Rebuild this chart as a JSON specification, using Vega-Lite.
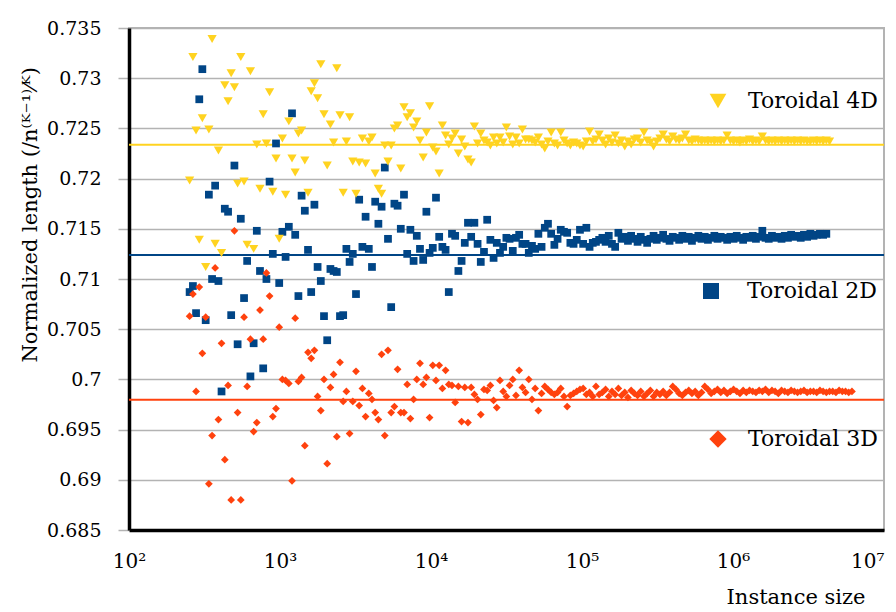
{
"$schema":"https://vega.github.io/schema/vega-lite/v6.json",
"width":755,"height":502,
"autosize":{"type":"none"},
"padding":{"left":129,"top":28,"right":12,"bottom":82},
"background":"white",
"config":{
 "font":"DejaVu Serif",
 "view":{"stroke":"#b3b3b3","strokeWidth":2},
 "style":{"guide-label":{"font":"DejaVu Serif"},"guide-title":{"font":"DejaVu Serif"}},
 "axis":{"labelFont":"DejaVu Serif","titleFont":"DejaVu Serif","labelColor":"black","titleColor":"black","titleFontWeight":"normal"},
 "legend":{"labelFont":"DejaVu Serif","labelColor":"black","labelFontSize":22,"padding":0,"title":null}
},
"datasets":{"pts":[
{"n":252,"d2":0.7087,"d3":0.7063,"d4":0.7198},
{"n":265,"d2":0.7093,"d3":0.7085,"d4":0.7321},
{"n":278,"d2":0.7066,"d3":0.6988,"d4":0.7248},
{"n":292,"d2":0.7279,"d3":0.7092,"d4":0.7139},
{"n":306,"d2":0.7309,"d3":0.7026,"d4":0.7260},
{"n":322,"d2":0.7059,"d3":0.7062,"d4":0.7112},
{"n":338,"d2":0.7184,"d3":0.6896,"d4":0.7249},
{"n":355,"d2":0.7100,"d3":0.6944,"d4":0.7339},
{"n":372,"d2":0.7193,"d3":0.7111,"d4":0.7135},
{"n":391,"d2":0.7098,"d3":0.6960,"d4":0.7228},
{"n":410,"d2":0.6988,"d3":0.7036,"d4":0.7126},
{"n":431,"d2":0.7170,"d3":0.6920,"d4":0.7293},
{"n":453,"d2":0.7167,"d3":0.6994,"d4":0.7277},
{"n":475,"d2":0.7064,"d3":0.6880,"d4":0.7305},
{"n":499,"d2":0.7213,"d3":0.7148,"d4":0.7291},
{"n":524,"d2":0.7035,"d3":0.6967,"d4":0.7195},
{"n":550,"d2":0.7160,"d3":0.6880,"d4":0.7321},
{"n":578,"d2":0.7081,"d3":0.7062,"d4":0.7197},
{"n":606,"d2":0.7118,"d3":0.6993,"d4":0.7134},
{"n":637,"d2":0.7003,"d3":0.7040,"d4":0.7307},
{"n":669,"d2":0.7036,"d3":0.6948,"d4":0.7130},
{"n":702,"d2":0.7148,"d3":0.6957,"d4":0.7234},
{"n":737,"d2":0.7108,"d3":0.7069,"d4":0.7190},
{"n":774,"d2":0.7011,"d3":0.7040,"d4":0.7264},
{"n":813,"d2":0.7100,"d3":0.7106,"d4":0.7235},
{"n":853,"d2":0.7197,"d3":0.7083,"d4":0.7286},
{"n":896,"d2":0.7125,"d3":0.6963,"d4":0.7187},
{"n":941,"d2":0.7235,"d3":0.6971,"d4":0.7220},
{"n":988,"d2":0.7096,"d3":0.7052,"d4":0.7140},
{"n":1037,"d2":0.7147,"d3":0.7000,"d4":0.7240},
{"n":1089,"d2":0.7122,"d3":0.6999,"d4":0.7184},
{"n":1144,"d2":0.7152,"d3":0.6996,"d4":0.7257},
{"n":1201,"d2":0.7265,"d3":0.6899,"d4":0.7220},
{"n":1261,"d2":0.7144,"d3":0.7061,"d4":0.7206},
{"n":1324,"d2":0.7083,"d3":0.6998,"d4":0.7245},
{"n":1390,"d2":0.7183,"d3":0.7002,"d4":0.7248},
{"n":1460,"d2":0.7168,"d3":0.6934,"d4":0.7218},
{"n":1533,"d2":0.7129,"d3":0.7027,"d4":0.7186},
{"n":1609,"d2":0.7087,"d3":0.7021,"d4":0.7287},
{"n":1690,"d2":0.7174,"d3":0.7029,"d4":0.7295},
{"n":1774,"d2":0.7112,"d3":0.6983,"d4":0.7280},
{"n":1863,"d2":0.7098,"d3":0.6969,"d4":0.7314},
{"n":1956,"d2":0.7063,"d3":0.7000,"d4":0.7264},
{"n":2054,"d2":0.7039,"d3":0.6916,"d4":0.7213},
{"n":2157,"d2":0.7110,"d3":0.6992,"d4":0.7254},
{"n":2264,"d2":0.7108,"d3":0.7005,"d4":0.7236},
{"n":2378,"d2":0.7107,"d3":0.6943,"d4":0.7310},
{"n":2496,"d2":0.7063,"d3":0.7017,"d4":0.7263},
{"n":2621,"d2":0.7064,"d3":0.6978,"d4":0.7186},
{"n":2752,"d2":0.7130,"d3":0.6988,"d4":0.7237},
{"n":2890,"d2":0.7117,"d3":0.6946,"d4":0.7261},
{"n":3034,"d2":0.7125,"d3":0.6978,"d4":0.7217},
{"n":3186,"d2":0.7085,"d3":0.7008,"d4":0.7185},
{"n":3345,"d2":0.7179,"d3":0.6974,"d4":0.7216},
{"n":3513,"d2":0.7132,"d3":0.6991,"d4":0.7240},
{"n":3688,"d2":0.7162,"d3":0.6963,"d4":0.7215},
{"n":3873,"d2":0.7130,"d3":0.6986,"d4":0.7237},
{"n":4066,"d2":0.7112,"d3":0.6980,"d4":0.7241},
{"n":4270,"d2":0.7177,"d3":0.6967,"d4":0.7205},
{"n":4483,"d2":0.7155,"d3":0.6960,"d4":0.7190},
{"n":4707,"d2":0.7172,"d3":0.7025,"d4":0.7185},
{"n":4943,"d2":0.7211,"d3":0.6944,"d4":0.7233},
{"n":5190,"d2":0.7140,"d3":0.7029,"d4":0.7217},
{"n":5449,"d2":0.7072,"d3":0.6967,"d4":0.7233},
{"n":5722,"d2":0.7175,"d3":0.6973,"d4":0.7250},
{"n":6008,"d2":0.7173,"d3":0.7010,"d4":0.7253},
{"n":6308,"d2":0.7150,"d3":0.6967,"d4":0.7210},
{"n":6624,"d2":0.7184,"d3":0.6967,"d4":0.7271},
{"n":6955,"d2":0.7125,"d3":0.6995,"d4":0.7261},
{"n":7303,"d2":0.7149,"d3":0.6961,"d4":0.7265},
{"n":7668,"d2":0.7118,"d3":0.6980,"d4":0.7251},
{"n":8051,"d2":0.7143,"d3":0.7000,"d4":0.7257},
{"n":8454,"d2":0.7130,"d3":0.7016,"d4":0.7238},
{"n":8876,"d2":0.7119,"d3":0.6995,"d4":0.7221},
{"n":9320,"d2":0.7167,"d3":0.7002,"d4":0.7246},
{"n":9786,"d2":0.7126,"d3":0.6962,"d4":0.7272},
{"n":10276,"d2":0.7131,"d3":0.7014,"d4":0.7231},
{"n":10789,"d2":0.7181,"d3":0.6999,"d4":0.7227},
{"n":11329,"d2":0.7142,"d3":0.7014,"d4":0.7205},
{"n":11895,"d2":0.7132,"d3":0.6991,"d4":0.7253},
{"n":12490,"d2":0.7129,"d3":0.7009,"d4":0.7243},
{"n":13114,"d2":0.7087,"d3":0.6995,"d4":0.7234},
{"n":13770,"d2":0.7145,"d3":0.6994,"d4":0.7240},
{"n":14459,"d2":0.7143,"d3":0.6977,"d4":0.7245},
{"n":15182,"d2":0.7108,"d3":0.6993,"d4":0.7225},
{"n":15941,"d2":0.7118,"d3":0.6958,"d4":0.7239},
{"n":16738,"d2":0.7136,"d3":0.6992,"d4":0.7232},
{"n":17575,"d2":0.7156,"d3":0.6957,"d4":0.7219},
{"n":18453,"d2":0.7142,"d3":0.6992,"d4":0.7216},
{"n":19376,"d2":0.7156,"d3":0.6985,"d4":0.7252},
{"n":20345,"d2":0.7135,"d3":0.6980,"d4":0.7235},
{"n":21362,"d2":0.7117,"d3":0.6965,"d4":0.7245},
{"n":22430,"d2":0.7127,"d3":0.6990,"d4":0.7238},
{"n":23552,"d2":0.7159,"d3":0.6989,"d4":0.7236},
{"n":24729,"d2":0.7139,"d3":0.6994,"d4":0.7233},
{"n":25966,"d2":0.7121,"d3":0.6979,"d4":0.7241},
{"n":27264,"d2":0.7136,"d3":0.6972,"d4":0.7235},
{"n":28627,"d2":0.7126,"d3":0.6999,"d4":0.7241},
{"n":30059,"d2":0.7132,"d3":0.6988,"d4":0.7236},
{"n":31562,"d2":0.7141,"d3":0.6983,"d4":0.7251},
{"n":33140,"d2":0.7140,"d3":0.6994,"d4":0.7242},
{"n":34797,"d2":0.7128,"d3":0.7000,"d4":0.7234},
{"n":36537,"d2":0.7141,"d3":0.6984,"d4":0.7241},
{"n":38364,"d2":0.7144,"d3":0.7009,"d4":0.7235},
{"n":40282,"d2":0.7135,"d3":0.6992,"d4":0.7249},
{"n":42296,"d2":0.7135,"d3":0.6987,"d4":0.7239},
{"n":44411,"d2":0.7126,"d3":0.7000,"d4":0.7239},
{"n":46631,"d2":0.7133,"d3":0.6980,"d4":0.7238},
{"n":48963,"d2":0.7130,"d3":0.6991,"d4":0.7236},
{"n":51411,"d2":0.7145,"d3":0.6969,"d4":0.7241},
{"n":53982,"d2":0.7132,"d3":0.6986,"d4":0.7234},
{"n":56681,"d2":0.7151,"d3":0.6993,"d4":0.7230},
{"n":59515,"d2":0.7155,"d3":0.6990,"d4":0.7237},
{"n":62491,"d2":0.7145,"d3":0.6987,"d4":0.7246},
{"n":65615,"d2":0.7134,"d3":0.6985,"d4":0.7235},
{"n":68896,"d2":0.7140,"d3":0.6987,"d4":0.7233},
{"n":72341,"d2":0.7149,"d3":0.6991,"d4":0.7246},
{"n":75958,"d2":0.7147,"d3":0.6983,"d4":0.7238},
{"n":79756,"d2":0.7146,"d3":0.6973,"d4":0.7235},
{"n":83744,"d2":0.7136,"d3":0.6984,"d4":0.7233},
{"n":87931,"d2":0.7135,"d3":0.6986,"d4":0.7236},
{"n":92327,"d2":0.7139,"d3":0.6988,"d4":0.7235},
{"n":96944,"d2":0.7149,"d3":0.6990,"d4":0.7233},
{"n":101791,"d2":0.7135,"d3":0.6991,"d4":0.7232},
{"n":106880,"d2":0.7151,"d3":0.6985,"d4":0.7237},
{"n":112224,"d2":0.7132,"d3":0.6987,"d4":0.7247},
{"n":117836,"d2":0.7136,"d3":0.6983,"d4":0.7237},
{"n":123727,"d2":0.7137,"d3":0.6993,"d4":0.7239},
{"n":129914,"d2":0.7139,"d3":0.6985,"d4":0.7244},
{"n":136409,"d2":0.7141,"d3":0.6987,"d4":0.7238},
{"n":143230,"d2":0.7137,"d3":0.6990,"d4":0.7234},
{"n":150391,"d2":0.7143,"d3":0.6983,"d4":0.7240},
{"n":157911,"d2":0.7135,"d3":0.6988,"d4":0.7236},
{"n":165806,"d2":0.7132,"d3":0.6985,"d4":0.7243},
{"n":174097,"d2":0.7146,"d3":0.6991,"d4":0.7235},
{"n":182801,"d2":0.7140,"d3":0.6984,"d4":0.7238},
{"n":191942,"d2":0.7142,"d3":0.6987,"d4":0.7232},
{"n":201539,"d2":0.7138,"d3":0.6982,"d4":0.7237},
{"n":211616,"d2":0.7143,"d3":0.6989,"d4":0.7234},
{"n":222196,"d2":0.7140,"d3":0.6986,"d4":0.7239},
{"n":233306,"d2":0.7137,"d3":0.6984,"d4":0.7240},
{"n":244972,"d2":0.7142,"d3":0.6988,"d4":0.7236},
{"n":257220,"d2":0.7139,"d3":0.6983,"d4":0.7246},
{"n":270081,"d2":0.7136,"d3":0.6986,"d4":0.7238},
{"n":283585,"d2":0.7140,"d3":0.6989,"d4":0.7236},
{"n":297765,"d2":0.7143,"d3":0.6983,"d4":0.7232},
{"n":312653,"d2":0.7139,"d3":0.6987,"d4":0.7237},
{"n":328286,"d2":0.7141,"d3":0.6985,"d4":0.7240},
{"n":344700,"d2":0.7144,"d3":0.6988,"d4":0.7244},
{"n":361935,"d2":0.7140,"d3":0.6984,"d4":0.7239},
{"n":380032,"d2":0.7138,"d3":0.6987,"d4":0.7237},
{"n":399033,"d2":0.7142,"d3":0.6993,"d4":0.7242},
{"n":418985,"d2":0.7141,"d3":0.6990,"d4":0.7239},
{"n":439934,"d2":0.7139,"d3":0.6986,"d4":0.7238},
{"n":461931,"d2":0.7143,"d3":0.6984,"d4":0.7240},
{"n":485028,"d2":0.7140,"d3":0.6987,"d4":0.7244},
{"n":509279,"d2":0.7142,"d3":0.6989,"d4":0.7238},
{"n":534743,"d2":0.7138,"d3":0.6986,"d4":0.7237},
{"n":561480,"d2":0.7141,"d3":0.6988,"d4":0.7239},
{"n":589554,"d2":0.7143,"d3":0.6984,"d4":0.7238},
{"n":619032,"d2":0.7140,"d3":0.6987,"d4":0.7237},
{"n":649983,"d2":0.7142,"d3":0.6993,"d4":0.7238},
{"n":682483,"d2":0.7139,"d3":0.6990,"d4":0.7237},
{"n":716607,"d2":0.7141,"d3":0.6986,"d4":0.7238},
{"n":752437,"d2":0.7143,"d3":0.6988,"d4":0.7237},
{"n":790059,"d2":0.7140,"d3":0.6990,"d4":0.7238},
{"n":829562,"d2":0.7142,"d3":0.6987,"d4":0.7237},
{"n":871040,"d2":0.7141,"d3":0.6989,"d4":0.7238},
{"n":914592,"d2":0.7139,"d3":0.6986,"d4":0.7243},
{"n":960322,"d2":0.7142,"d3":0.6988,"d4":0.7238},
{"n":1008338,"d2":0.7140,"d3":0.6990,"d4":0.7237},
{"n":1058755,"d2":0.7143,"d3":0.6988,"d4":0.7238},
{"n":1111692,"d2":0.7141,"d3":0.6986,"d4":0.7236},
{"n":1167277,"d2":0.7139,"d3":0.6989,"d4":0.7238},
{"n":1225641,"d2":0.7142,"d3":0.6987,"d4":0.7237},
{"n":1286923,"d2":0.7141,"d3":0.6989,"d4":0.7239},
{"n":1351269,"d2":0.7143,"d3":0.6988,"d4":0.7237},
{"n":1418832,"d2":0.7140,"d3":0.6987,"d4":0.7238},
{"n":1489774,"d2":0.7142,"d3":0.6989,"d4":0.7237},
{"n":1564263,"d2":0.7148,"d3":0.6988,"d4":0.7242},
{"n":1642476,"d2":0.7141,"d3":0.6990,"d4":0.7238},
{"n":1724600,"d2":0.7140,"d3":0.6987,"d4":0.7237},
{"n":1810830,"d2":0.7143,"d3":0.6989,"d4":0.7238},
{"n":1901371,"d2":0.7141,"d3":0.6988,"d4":0.7237},
{"n":1996440,"d2":0.7142,"d3":0.6986,"d4":0.7238},
{"n":2096262,"d2":0.7140,"d3":0.6989,"d4":0.7237},
{"n":2201075,"d2":0.7143,"d3":0.6988,"d4":0.7238},
{"n":2311129,"d2":0.7141,"d3":0.6987,"d4":0.7237},
{"n":2426685,"d2":0.7144,"d3":0.6989,"d4":0.7238},
{"n":2548019,"d2":0.7142,"d3":0.6988,"d4":0.7237},
{"n":2675420,"d2":0.7143,"d3":0.6987,"d4":0.7238},
{"n":2809191,"d2":0.7141,"d3":0.6988,"d4":0.7237},
{"n":2949651,"d2":0.7144,"d3":0.6989,"d4":0.7238},
{"n":3097133,"d2":0.7142,"d3":0.6987,"d4":0.7237},
{"n":3251990,"d2":0.7145,"d3":0.6988,"d4":0.7237},
{"n":3414589,"d2":0.7143,"d3":0.6988,"d4":0.7238},
{"n":3585319,"d2":0.7144,"d3":0.6987,"d4":0.7237},
{"n":3764585,"d2":0.7145,"d3":0.6989,"d4":0.7238},
{"n":3952814,"d2":0.7144,"d3":0.6988,"d4":0.7237},
{"n":4150455,"d2":0.7145,"d3":0.6987,"d4":0.7238},
{"n":4357978,"d3":0.6988,"d4":0.7237},
{"n":4575877,"d3":0.6988},
{"n":4804671,"d3":0.6987},
{"n":5044904,"d3":0.6989},
{"n":5297150,"d3":0.6988},
{"n":5562007,"d3":0.6988},
{"n":5840108,"d3":0.6987},
{"n":6132113,"d3":0.6988}
]},
"data":{"name":"pts"},
"layer":[
 {"data":{"values":[{"c":0.72338}]},"mark":{"type":"rule","color":"#FFD320","strokeWidth":2},
  "encoding":{"y":{"field":"c","type":"quantitative","scale":{"domain":[0.685,0.735],"nice":false,"zero":false}}}},
 {"data":{"values":[{"c":0.71239}]},"mark":{"type":"rule","color":"#004586","strokeWidth":2},
  "encoding":{"y":{"field":"c","type":"quantitative","scale":{"domain":[0.685,0.735],"nice":false,"zero":false}}}},
 {"data":{"values":[{"c":0.69798}]},"mark":{"type":"rule","color":"#FF420E","strokeWidth":2},
  "encoding":{"y":{"field":"c","type":"quantitative","scale":{"domain":[0.685,0.735],"nice":false,"zero":false}}}},
 {"transform":[{"filter":"isValid(datum.d2)"}],
  "mark":{"type":"point","filled":true,"opacity":1,"size":60,"shape":"square","strokeWidth":0},
  "encoding":{
   "x":{"field":"n","type":"quantitative","scale":{"type":"log","domain":[100,10000000],"nice":false},
     "axis":{"values":[100,1000,10000,100000,1000000,10000000],"labelExpr":"'10' + ['⁰','¹','²','³','⁴','⁵','⁶','⁷'][round(log(datum.value)/LN10)]","labelAlign":{"condition":{"test":"datum.value > 5000000","value":"right"},"value":"center"},"grid":false,"ticks":false,"domainColor":"black","domainWidth":3.5,"labelFont":"DejaVu Serif","labelFontSize":20,"labelPadding":21,"labelFlush":false,"title":"Instance size","titleFont":"DejaVu Serif","titleFontSize":21,"titleX":736,"titleY":73,"titleAlign":"right","titleBaseline":"alphabetic"}},
   "y":{"field":"d2","type":"quantitative","scale":{"domain":[0.685,0.735],"nice":false,"zero":false},
     "axis":{"values":[0.685,0.69,0.695,0.7,0.705,0.71,0.715,0.72,0.725,0.73,0.735],"format":".3~f","grid":true,"gridColor":"#b3b3b3","gridWidth":1.5,"tickColor":"#b3b3b3","tickWidth":1.5,"tickSize":11,"domainColor":"black","domainWidth":3.5,"labelFont":"DejaVu Serif","labelFontSize":19,"labelPadding":17,"labelFlush":false,"title":"Normalized length (/n⁽ᴷ⁻¹⁾⁄ᴷ)","titleFont":"DejaVu Serif","titleFontSize":21,"titleX":-93,"titleY":334,"titleAngle":270,"titleAlign":"left","titleBaseline":"alphabetic"}},
   "color":{"datum":"Toroidal 2D","type":"nominal","scale":{"domain":["Toroidal 2D"],"range":["#004586"]},
     "legend":{"orient":"none","legendX":571,"legendY":252,"symbolType":"square","symbolSize":256,"labelOffset":25}}
  }},
 {"transform":[{"filter":"isValid(datum.d3)"}],
  "mark":{"type":"point","filled":true,"opacity":1,"size":60,"shape":"diamond","strokeWidth":0},
  "encoding":{
   "x":{"field":"n","type":"quantitative","scale":{"type":"log","domain":[100,10000000],"nice":false}},
   "y":{"field":"d3","type":"quantitative","scale":{"domain":[0.685,0.735],"nice":false,"zero":false}},
   "color":{"datum":"Toroidal 3D","type":"nominal","scale":{"domain":["Toroidal 3D"],"range":["#FF420E"]},
     "legend":{"orient":"none","legendX":578,"legendY":400,"symbolType":"diamond","symbolSize":300,"labelOffset":19}}
  }},
 {"transform":[{"filter":"isValid(datum.d4)"}],
  "mark":{"type":"point","filled":true,"opacity":1,"size":85,"shape":"triangle-down","strokeWidth":0},
  "encoding":{
   "x":{"field":"n","type":"quantitative","scale":{"type":"log","domain":[100,10000000],"nice":false}},
   "y":{"field":"d4","type":"quantitative","scale":{"domain":[0.685,0.735],"nice":false,"zero":false}},
   "color":{"datum":"Toroidal 4D","type":"nominal","scale":{"domain":["Toroidal 4D"],"range":["#FFD320"]},
     "legend":{"orient":"none","legendX":578,"legendY":62,"symbolType":"triangle-down","symbolSize":280,"labelOffset":19}}
  }}
],
"resolve":{"scale":{"color":"independent"},"legend":{"color":"independent"}}
}
